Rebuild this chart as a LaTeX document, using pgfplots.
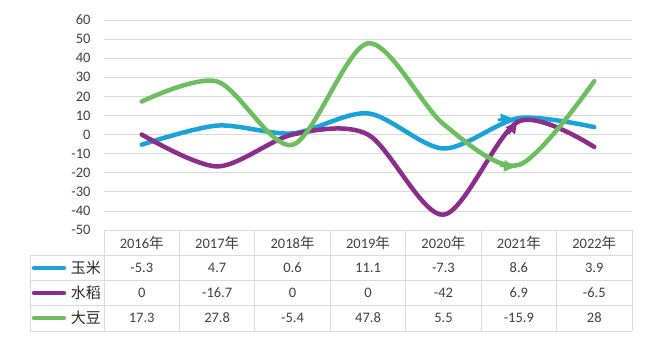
\documentclass[border=0pt]{standalone}
\usepackage{pgfplots}
\pgfplotsset{compat=1.18}
\usetikzlibrary{arrows.meta}
\usepackage{fontspec}
\setmainfont{Carlito}
\newfontfamily\cjk{Noto Sans CJK SC}
\definecolor{cblue}{HTML}{1AA3D9}
\definecolor{cpurple}{HTML}{8B2D8B}
\definecolor{cgreen}{HTML}{6DBE5E}
\definecolor{ctext}{HTML}{404040}
\definecolor{cgrid}{HTML}{DADADA}
\begin{document}
\begin{tikzpicture}[x=1pt,y=1pt]
\path[use as bounding box] (0,0) rectangle (662,354);
\begin{axis}[at={(104pt,124pt)}, anchor=south west, scale only axis,
  width=528pt, height=210pt,
  xmin=-0.5, xmax=6.5, ymin=-50, ymax=60,
  ytick={-50,-40,...,60},
  yticklabels={-50,-40,-30,-20,-10,0,10,20,30,40,50,60},
  xtick=\empty,
  axis line style={draw=none},
  ymajorgrids, grid style={cgrid, line width=0.8pt},
  major tick length=0pt,
  yticklabel style={font=\fontsize{14.5}{16}\selectfont, text=ctext, anchor=east, xshift=-10pt},
  clip=false]
\addplot[cblue, line width=4.5pt, line cap=round, smooth, tension=0.5] coordinates {(0,-5.3)(1,4.7)(2,0.6)(3,11.1)(4,-7.3)(5,8.6)(6,3.9)};
\addplot[cpurple, line width=4.5pt, line cap=round, smooth, tension=0.5] coordinates {(0,0)(1,-16.7)(2,0)(3,0)(4,-42)(5,6.9)(6,-6.5)};
\addplot[cgreen, line width=4.5pt, line cap=round, smooth, tension=0.5] coordinates {(0,17.3)(1,27.8)(2,-5.4)(3,47.8)(4,5.5)(5,-15.9)(6,28)};
% arrowheads seen on the lines near 2021
\addplot[cblue, line width=3pt, -{Triangle[length=11pt,width=11pt]}] coordinates {(4.72,7.6)(4.91,8.7)};
\addplot[cpurple, line width=3pt, -{Triangle[length=11pt,width=11pt]}] coordinates {(4.86,0.5)(4.975,6.6)};
\addplot[cgreen, line width=3pt, -{Triangle[length=11pt,width=11pt]}] coordinates {(4.75,-16.2)(4.95,-17)};
\end{axis}
% data table
\def\cw{75.43}
\draw[cgrid, line width=0.8pt] (104,124) -- (632,124);
\foreach \yy in {99,74,49,23} \draw[cgrid, line width=0.8pt] (30,\yy) -- (632,\yy);
\draw[cgrid, line width=0.8pt] (30,99) -- (30,23);
\foreach \i in {0,...,7} \draw[cgrid, line width=0.8pt] ({104+\i*\cw},124) -- ({104+\i*\cw},23);
\foreach \yr [count=\i from 0] in {2016,2017,2018,2019,2020,2021,2022}
  \node[text=ctext, font=\fontsize{14.5}{16}\selectfont] at ({104+(\i+0.5)*\cw},111) {\yr{\cjk 年}};
\foreach \v [count=\i from 0] in {-5.3,4.7,0.6,11.1,-7.3,8.6,3.9}
  \node[text=ctext, font=\fontsize{14.5}{16}\selectfont] at ({104+(\i+0.5)*\cw},86) {\v};
\foreach \v [count=\i from 0] in {0,-16.7,0,0,-42,6.9,-6.5}
  \node[text=ctext, font=\fontsize{14.5}{16}\selectfont] at ({104+(\i+0.5)*\cw},61) {\v};
\foreach \v [count=\i from 0] in {17.3,27.8,-5.4,47.8,5.5,-15.9,28}
  \node[text=ctext, font=\fontsize{14.5}{16}\selectfont] at ({104+(\i+0.5)*\cw},36) {\v};
\draw[cblue, line width=4.5pt, line cap=round] (34,86) -- (64,86);
\draw[cpurple, line width=4.5pt, line cap=round] (34,61) -- (64,61);
\draw[cgreen, line width=4.5pt, line cap=round] (34,36) -- (64,36);
\node[anchor=east, inner sep=0pt, text=black!85, font=\cjk\fontsize{15}{16}\selectfont] at (101,86) {玉米};
\node[anchor=east, inner sep=0pt, text=black!85, font=\cjk\fontsize{15}{16}\selectfont] at (101,61) {水稻};
\node[anchor=east, inner sep=0pt, text=black!85, font=\cjk\fontsize{15}{16}\selectfont] at (101,36) {大豆};
\end{tikzpicture}
\end{document}
